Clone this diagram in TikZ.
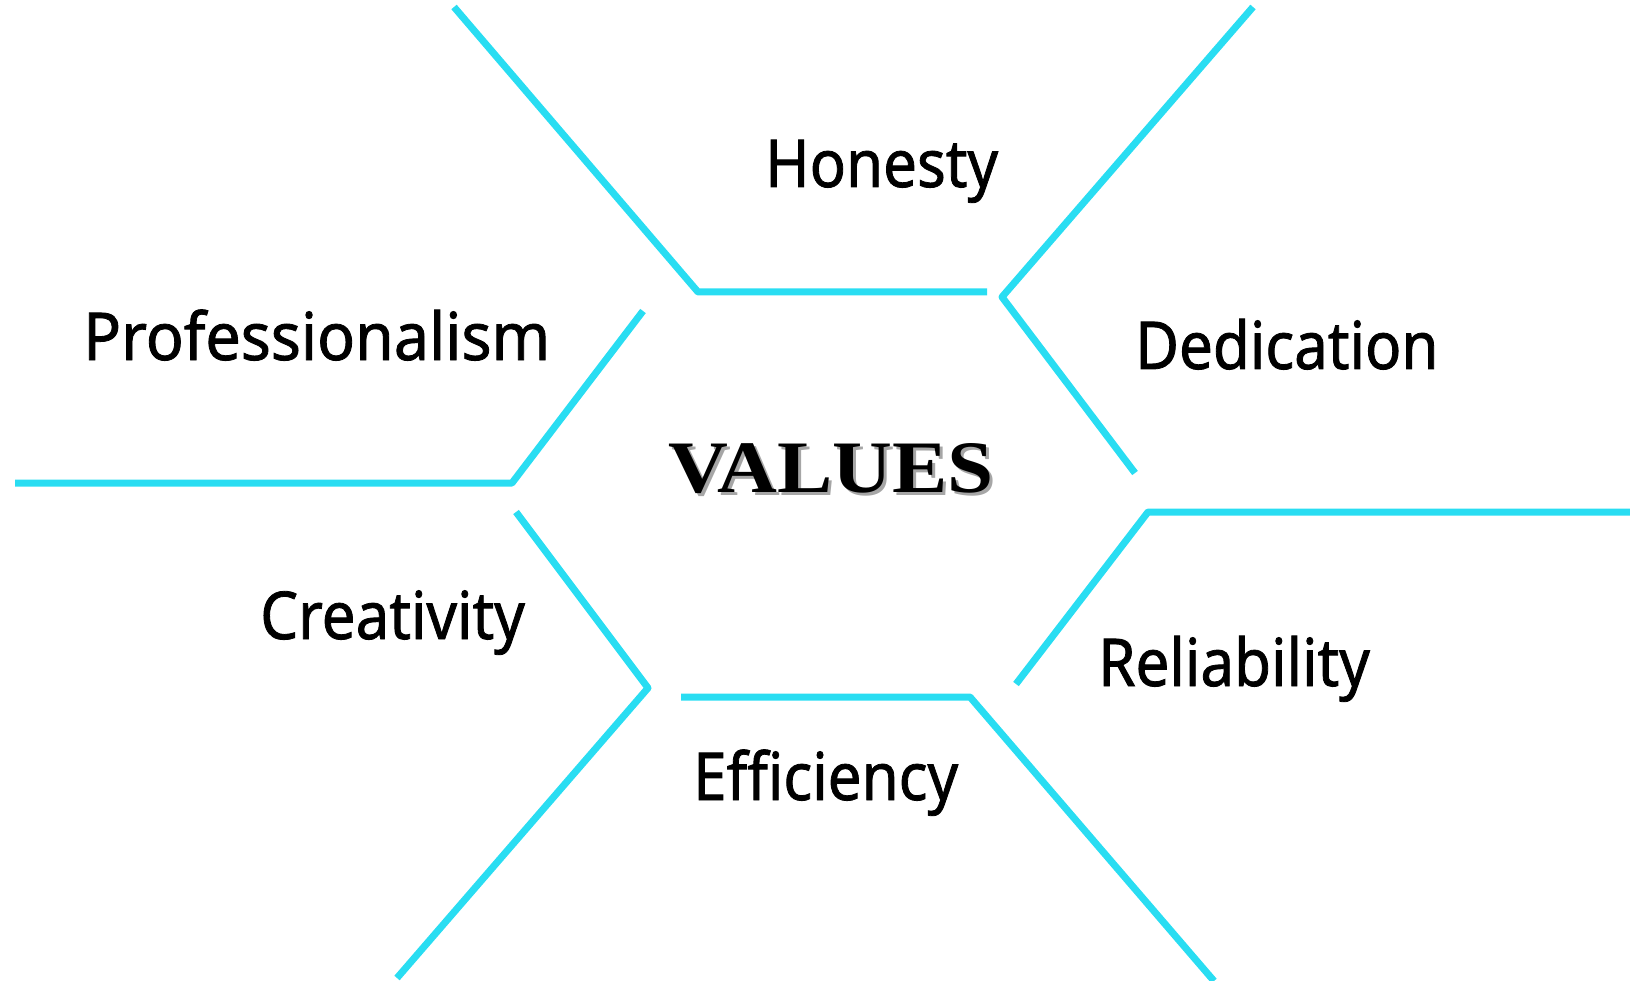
\documentclass[tikz,border=0pt]{standalone}
\usepackage{fontspec}
\setmainfont{Noto Sans}
\newfontfamily\lblfont[FakeStretch=0.91,FakeBold=1.2]{Noto Sans}
\newfontfamily\valfont[FakeStretch=1.12]{Liberation Serif}
\definecolor{hexcyan}{RGB}{41,221,242}
\newcommand{\shadowtext}[1]{\rlap{\hspace{3pt}\raisebox{-3pt}{\textcolor{black!35}{#1}}}#1}
\begin{document}
\begin{tikzpicture}[x=1pt,y=-1pt,
  hexline/.style={draw=hexcyan,line width=7pt,line join=round},
  lbl/.style={anchor=base west,inner sep=0pt,font=\lblfont\fontsize{66}{66}\selectfont},
  titlefont/.style={font=\valfont\bfseries\fontsize{74}{74}\selectfont}]
\useasboundingbox (0,0) rectangle (1630,981);
% line corner coordinates
\coordinate (a1) at (454,7);   \coordinate (a2) at (698,292);  \coordinate (a3) at (987,292);
\coordinate (b1) at (1253,7);  \coordinate (b2) at (1002,297); \coordinate (b3) at (1135,473);
\coordinate (c1) at (643,311); \coordinate (c2) at (512,483);  \coordinate (c3) at (15,483);
\coordinate (d1) at (516,512); \coordinate (d2) at (648,688);  \coordinate (d3) at (397,978);
\coordinate (e1) at (681,697); \coordinate (e2) at (970,697);  \coordinate (e3) at (1214,981);
\coordinate (f1) at (1016,684);\coordinate (f2) at (1148,512); \coordinate (f3) at (1630,512);
\draw[hexline] (a1) -- (a2) -- (a3);
\draw[hexline] (b1) -- (b2) -- (b3);
\draw[hexline] (c1) -- (c2) -- (c3);
\draw[hexline] (d1) -- (d2) -- (d3);
\draw[hexline] (e1) -- (e2) -- (e3);
\draw[hexline] (f1) -- (f2) -- (f3);
% labels
\node[lbl] (honesty) at (765,187) {Honesty};
\node[lbl] (prof) at (83,360) {\scalebox{1.045}[1]{Professionalism}};
\node[lbl] (dedic) at (1135,369) {Dedication};
\node[lbl] (creat) at (260,639) {Creativity};
\node[lbl] (reliab) at (1098,686) {Reliability};
\node[lbl] (effic) at (693,800) {Efficiency};
% title with shadow
\node[titlefont,anchor=base west,inner sep=0pt] (values) at (668,492) {\shadowtext{VALUES}};
\end{tikzpicture}
\end{document}
